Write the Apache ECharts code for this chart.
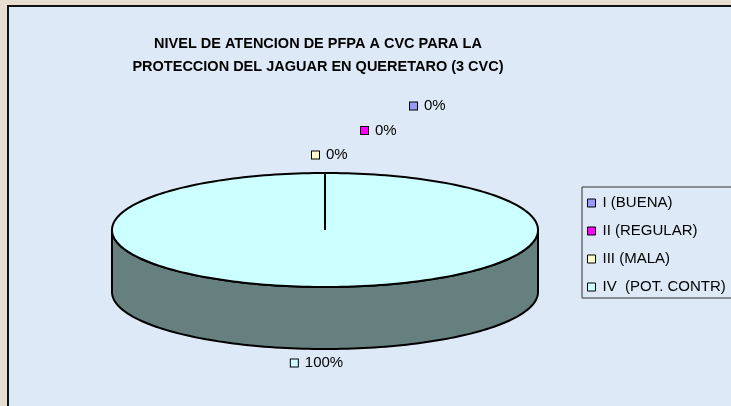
<!DOCTYPE html>
<html>
<head>
<meta charset="utf-8">
<script src="https://cdn.jsdelivr.net/npm/echarts@6/dist/echarts.min.js"></script>
<style>
  html, body { margin: 0; padding: 0; width: 731px; height: 406px; overflow: hidden; background: #e8ddd1; }
  #main { position: absolute; left: 7px; top: 5px; width: 724px; height: 401px; border-left: 2px solid #111; border-top: 2px solid #111; background: #dde9f6; }
</style>
</head>
<body>
<div id="main"></div>
<script>
// datos del grafico
var categories = ['I (BUENA)', 'II (REGULAR)', 'III (MALA)', 'IV  (POT. CONTR)'];
var values = [0, 0, 0, 3];
var colors = ['#9999ff', '#ff00ff', '#ffffcc', '#ccffff'];

var myChart = echarts.init(document.getElementById('main'));

// geometria del pastel 3D (coordenadas dentro del div)
var cx = 316, cy = 223, rx = 213, ry = 57, depth = 62;
var total = values.reduce(function (a, b) { return a + b; }, 0);

var starts = [], ends = [], acc = 0;
values.forEach(function (v) {
  starts.push(acc / total);
  acc += v;
  ends.push(acc / total);
});

function pt(t, dy) {
  return [cx + rx * Math.sin(t), cy - ry * Math.cos(t) + (dy || 0)];
}

function darker(hex) {
  var n = parseInt(hex.slice(1), 16);
  var r = (n >> 16) >> 1, g = ((n >> 8) & 255) >> 1, b = (n & 255) >> 1;
  return 'rgb(' + r + ',' + g + ',' + b + ')';
}

function renderSlice(idx) {
  return function (params, api) {
    var a0 = starts[idx] * Math.PI * 2, a1 = ends[idx] * Math.PI * 2;
    var children = [];
    var steps = 120, i, t;
    if (a1 > a0) {
      // lado visible (mitad frontal)
      var s = Math.max(a0, Math.PI / 2), e = Math.min(a1, Math.PI * 3 / 2);
      if (e > s) {
        var side = [];
        for (i = 0; i <= steps; i++) { t = s + (e - s) * i / steps; side.push(pt(t)); }
        for (i = steps; i >= 0; i--) { t = s + (e - s) * i / steps; side.push(pt(t, depth)); }
        children.push({
          type: 'polygon', shape: { points: side },
          style: { fill: darker(colors[idx]), stroke: '#000', lineWidth: 2 }
        });
      }
      // cara superior
      var top = [[cx, cy]];
      for (i = 0; i <= steps * 2; i++) { t = a0 + (a1 - a0) * i / (steps * 2); top.push(pt(t)); }
      children.push({
        type: 'polygon', shape: { points: top },
        style: { fill: colors[idx], stroke: '#000', lineWidth: 2 }
      });
    }
    // etiqueta con clave de leyenda
    var mid = (a0 + a1) / 2;
    var pct = Math.round(values[idx] / total * 100) + '%';
    var lx, ly, align;
    if (Math.cos(mid) > 0) {
      // etiquetas de arriba; las de 0% se escalonan
      var k = 0;
      for (var j = idx + 1; j < values.length; j++) { if (values[j] === 0 && values[idx] === 0) k++; }
      var p = pt(mid);
      lx = p[0] - 13 + k * 49;
      ly = p[1] - 18 - k * 24.5;
      align = 'left';
    } else {
      var q = pt(mid, depth);
      lx = q[0] - 8;
      ly = q[1] + 14;
      align = 'center';
    }
    children.push({
      type: 'text', x: lx, y: ly,
      style: {
        text: '{sq|}{t|' + pct + '}',
        align: align, verticalAlign: 'middle',
        rich: {
          sq: { width: 7, height: 7, backgroundColor: colors[idx], borderColor: '#000', borderWidth: 1 },
          t: { fontSize: 15, fontFamily: 'Liberation Sans, Arial', fill: '#000', padding: [0, 0, 0, 7] }
        }
      }
    });
    return { type: 'group', children: children };
  };
}

var series = categories.map(function (name, idx) {
  return {
    name: name,
    type: 'custom',
    coordinateSystem: 'none',
    itemStyle: { color: colors[idx] },
    data: [[values[idx]]],
    renderItem: renderSlice(idx)
  };
});

var option = {
  animation: false,
  title: {
    text: 'NIVEL DE ATENCION DE PFPA A CVC PARA LA\nPROTECCION DEL JAGUAR EN QUERETARO (3 CVC)',
    left: 304,
    top: 20,
    textAlign: 'center',
    textStyle: { fontFamily: 'Liberation Sans, Arial', fontSize: 14.5, fontWeight: 'bold', color: '#000', lineHeight: 23 }
  },
  legend: {
    orient: 'vertical',
    left: 573,
    top: 180,
    data: categories,
    icon: 'rect',
    itemWidth: 8,
    itemHeight: 8,
    itemGap: 12,
    padding: [8, 6, 3, 5],
    borderColor: '#333',
    borderWidth: 1,
    selectedMode: false,
    itemStyle: { borderColor: '#000', borderWidth: 1 },
    textStyle: { fontFamily: 'Liberation Sans, Arial', fontSize: 15, color: '#000', lineHeight: 16, padding: [0, 0, 0, 2] }
  },
  series: series
};

myChart.setOption(option);
</script>
</body>
</html>
